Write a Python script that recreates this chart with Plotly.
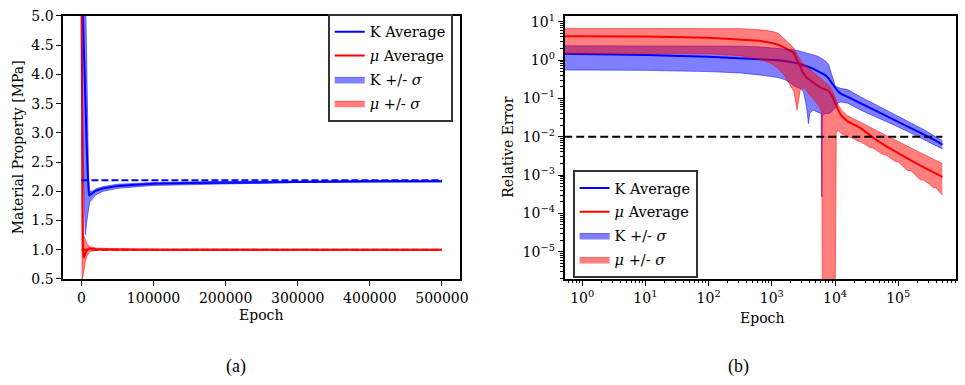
import plotly.graph_objects as go

# ---------------- Panel (a): material property vs epoch ----------------
A_K_AVG_EPOCH = [0, 2000, 4000, 6000, 8000, 10000, 11000, 13000, 16000, 20000, 30000,
                 50000, 75000, 100000, 150000, 200000, 300000, 400000, 500000]
A_K_AVG = [5.6, 5.05, 4.2, 3.3, 2.5, 2.0, 1.92, 1.95, 1.98, 2.01, 2.05,
           2.09, 2.11, 2.13, 2.14, 2.15, 2.16, 2.17, 2.17]

A_K_BAND_EPOCH = [0, 1500, 3000, 4500, 5500, 7000, 8000, 9000, 10000, 11000, 12000,
                  15000, 20000, 30000, 50000, 100000, 200000, 300000, 500000]
A_K_UPPER = [7.5, 7.3, 7.0, 6.3, 5.6, 4.3, 3.4, 2.7, 2.25, 2.05, 2.0,
             2.0, 2.04, 2.08, 2.12, 2.15, 2.17, 2.175, 2.18]
A_K_LOWER = [4.5, 3.2, 2.2, 1.6, 1.26, 1.45, 1.55, 1.65, 1.72, 1.78, 1.82,
             1.87, 1.94, 2.0, 2.05, 2.1, 2.13, 2.15, 2.16]

A_MU_AVG_EPOCH = [0, 500, 1000, 2000, 3200, 5000, 7000, 10000, 15000, 20000, 50000, 100000, 500000]
A_MU_AVG = [5.3, 3.5, 2.0, 1.1, 0.86, 0.92, 0.98, 1.02, 1.02, 1.01, 1.005, 1.0, 1.0]

A_MU_BAND_EPOCH = [0, 500, 900, 2000, 3000, 5500, 8000, 12000, 20000, 50000, 100000, 500000]
A_MU_UPPER = [8.0, 6.0, 4.5, 1.8, 1.25, 1.16, 1.1, 1.05, 1.03, 1.015, 1.01, 1.005]
A_MU_LOWER = [3.0, 1.3, 0.5, 0.55, 0.65, 0.8, 0.9, 0.97, 0.99, 0.995, 0.995, 0.995]

A_TARGET_K = 2.19
A_TARGET_MU = 1.0
A_XTICKS = [0, 100000, 200000, 300000, 400000, 500000]
A_XTICK_LABELS = ["0", "100000", "200000", "300000", "400000", "500000"]
A_YTICKS = [0.5, 1.0, 1.5, 2.0, 2.5, 3.0, 3.5, 4.0, 4.5, 5.0]
A_YTICK_LABELS = ["0.5", "1.0", "1.5", "2.0", "2.5", "3.0", "3.5", "4.0", "4.5", "5.0"]

# ---------------- Panel (b): relative error vs epoch (log-log) ----------------
R_EPOCH = [0.52, 1, 10, 100, 316, 631, 1000, 1259, 1585, 1995, 2239, 2512, 2818, 3162,
           3548, 3802, 3981, 4467, 5012, 5623, 6026, 6166, 6310, 6607, 7079, 7943, 8913,
           10000, 10471, 11220, 12589, 15849, 25119, 39811, 63096, 100000, 158489,
           251189, 398107, 500000]
R_K_AVG = [1.45, 1.43, 1.35, 1.22, 1.12, 1.08, 1.03, 0.99, 0.95, 0.90, 0.87, 0.83, 0.78, 0.74,
           0.70, 0.67, 0.65, 0.60, 0.55, 0.50, 0.47, 0.46, 0.45, 0.43, 0.40, 0.33, 0.25,
           0.19, 0.17, 0.15, 0.13, 0.11, 0.075, 0.052, 0.036, 0.025, 0.017,
           0.0115, 0.0078, 0.0062]
R_K_UPPER = [2.35, 2.35, 2.35, 2.35, 2.3, 2.2, 2.1, 2.05, 2.0, 1.9, 1.85, 1.78, 1.7, 1.62,
             1.55, 1.5, 1.47, 1.4, 1.3, 1.2, 1.12, 1.09, 1.05, 1.0, 0.95, 0.75, 0.4,
             0.22, 0.2, 0.19, 0.18, 0.17, 0.11, 0.075, 0.05, 0.034, 0.023,
             0.0155, 0.0098, 0.0078]
R_K_LOWER = [0.55, 0.55, 0.54, 0.5, 0.46, 0.41, 0.37, 0.35, 0.31, 0.25, 0.21, 0.19, 0.18, 0.15,
             0.06, 0.022, 0.04, 0.05, 0.045, 0.042, 0.04, 0.00027, 0.035, 0.038, 0.04, 0.04, 0.045,
             0.055, 0.065, 0.078, 0.08, 0.075, 0.05, 0.036, 0.026, 0.018, 0.0125,
             0.0085, 0.006, 0.0048]
R_MU_AVG = [4.2, 4.2, 4.1, 3.8, 3.5, 3.2, 2.8, 2.5, 2.1, 1.75, 1.55, 1.0, 0.65, 0.45,
            0.35, 0.32, 0.3, 0.26, 0.23, 0.2, 0.19, 0.185, 0.18, 0.175, 0.17, 0.155, 0.12,
            0.075, 0.06, 0.05, 0.035, 0.025, 0.017, 0.0095, 0.0058, 0.0037, 0.0024,
            0.0016, 0.0011, 0.0009]
R_MU_UPPER = [6.7, 6.7, 6.7, 6.7, 6.6, 6.2, 5.6, 5.0, 3.6, 2.5, 2.0, 1.4, 1.0, 0.8,
              0.68, 0.64, 0.6, 0.52, 0.43, 0.36, 0.33, 0.32, 0.31, 0.29, 0.26, 0.22, 0.17,
              0.11, 0.09, 0.068, 0.05, 0.035, 0.024, 0.016, 0.011, 0.0075, 0.005,
              0.0035, 0.0024, 0.002]
R_MU_LO_EPOCH = [0.52, 1, 10, 100, 316, 631, 1000, 1259, 1585, 1995, 2239, 2512, 2818, 3162,
                 3548, 3802, 3981, 4467, 5012, 5623, 6026, 6166, 6310, 6607, 7079, 7943, 8913,
                 10000, 10471, 11220, 12589, 15849, 19953, 22387, 25119, 31623, 35481, 39811,
                 50119, 56234, 63096, 79433, 89125, 100000, 125893, 141254, 158489,
                 199526, 223872, 251189, 316228, 354813, 398107, 446684, 500000]
R_MU_LOWER = [1.5, 1.5, 1.5, 1.45, 1.3, 1.05, 0.8, 0.6, 0.4, 0.22, 0.15, 0.05, 0.17, 0.19,
              0.16, 0.13, 0.12, 0.1, 0.08, 0.06, 0.05, 0.045, 1e-7, 1e-7, 1e-7, 1e-7, 1e-7,
              1e-7, 0.0126, 0.015, 0.012, 0.0105, 0.0088, 0.0078, 0.0074, 0.006, 0.0052, 0.0051,
              0.0041, 0.0035, 0.0034, 0.0027, 0.0023, 0.0022, 0.0016, 0.0013, 0.0013,
              0.00092, 0.00075, 0.00074, 0.00057, 0.00047, 0.00046, 0.00036, 0.0003]
R_TARGET = 0.01
R_XTICKS = [1, 10, 100, 1000, 10000, 100000]
R_XTICK_LABELS = ["10<sup>0</sup>", "10<sup>1</sup>", "10<sup>2</sup>", "10<sup>3</sup>",
                  "10<sup>4</sup>", "10<sup>5</sup>"]
R_YTICKS = [1e-5, 1e-4, 1e-3, 1e-2, 1e-1, 1, 10]
R_YTICK_LABELS = ["10<sup>\u22125</sup>", "10<sup>\u22124</sup>", "10<sup>\u22123</sup>",
                  "10<sup>\u22122</sup>", "10<sup>\u22121</sup>", "10<sup>0</sup>", "10<sup>1</sup>"]

BLUE = "#0000ff"
RED = "#ff0000"
BLUE_FILL = "rgba(0,0,255,0.5)"
RED_FILL = "rgba(255,0,0,0.5)"
SERIF = "DejaVu Serif"

W, H = 965, 385


def px_x(p):
    return p / W


def px_y(p):
    return 1 - p / H


fig = go.Figure()


def line(x, y, color, name, xa, ya, leg, grp, show=True, width=2, dash=None):
    fig.add_trace(go.Scatter(x=x, y=y, mode="lines", name=name,
                             line=dict(color=color, width=width, dash=dash),
                             xaxis=xa, yaxis=ya, legend=leg, legendgroup=grp,
                             showlegend=show, hoverinfo="skip"))


def band(xl, yl, xu, yu, fill, name, xa, ya, leg, grp):
    fig.add_trace(go.Scatter(x=xl, y=yl, mode="lines", line=dict(color=fill, width=1),
                             xaxis=xa, yaxis=ya, legend=leg, legendgroup=grp,
                             showlegend=False, hoverinfo="skip"))
    fig.add_trace(go.Scatter(x=xu, y=yu, mode="lines", line=dict(color=fill, width=1),
                             fill="tonexty", fillcolor=fill, name=name,
                             xaxis=xa, yaxis=ya, legend=leg, legendgroup=grp,
                             hoverinfo="skip"))


K_AVG_NAME = "K Average"
MU_AVG_NAME = "<i>\u03bc</i> Average"
K_BAND_NAME = "K +/- <i>\u03c3</i>"
MU_BAND_NAME = "<i>\u03bc</i> +/- <i>\u03c3</i>"

# Panel (a)
line(A_K_AVG_EPOCH, A_K_AVG, BLUE, K_AVG_NAME, "x", "y", "legend", "ka")
line(A_MU_AVG_EPOCH, A_MU_AVG, RED, MU_AVG_NAME, "x", "y", "legend", "ma")
band(A_K_BAND_EPOCH, A_K_LOWER, A_K_BAND_EPOCH, A_K_UPPER, BLUE_FILL, K_BAND_NAME, "x", "y", "legend", "kb")
band(A_MU_BAND_EPOCH, A_MU_LOWER, A_MU_BAND_EPOCH, A_MU_UPPER, RED_FILL, MU_BAND_NAME, "x", "y", "legend", "mb")
line([A_K_AVG_EPOCH[0], A_K_AVG_EPOCH[-1]], [A_TARGET_K, A_TARGET_K], BLUE, "K target",
     "x", "y", "legend", "kt", show=False, dash="7px,3px")
line([A_MU_AVG_EPOCH[0], A_MU_AVG_EPOCH[-1]], [A_TARGET_MU, A_TARGET_MU], RED, "mu target",
     "x", "y", "legend", "mt", show=False, dash="7px,3px")

# Panel (b)
line(R_EPOCH, R_K_AVG, BLUE, K_AVG_NAME, "x2", "y2", "legend2", "ka2")
line(R_EPOCH, R_MU_AVG, RED, MU_AVG_NAME, "x2", "y2", "legend2", "ma2")
band(R_EPOCH, R_K_LOWER, R_EPOCH, R_K_UPPER, BLUE_FILL, K_BAND_NAME, "x2", "y2", "legend2", "kb2")
band(R_MU_LO_EPOCH, R_MU_LOWER, R_EPOCH, R_MU_UPPER, RED_FILL, MU_BAND_NAME, "x2", "y2", "legend2", "mb2")
line([R_EPOCH[0], R_EPOCH[-1]], [R_TARGET, R_TARGET], "black", "target",
     "x2", "y2", "legend2", "rt", show=False, dash="8px,4px")

tickfont = dict(family=SERIF, size=14, color="black")
axis_common = dict(showline=True, linecolor="black", linewidth=2, mirror=True,
                   ticks="outside", ticklen=5, tickwidth=1.3, tickcolor="black",
                   showgrid=False, zeroline=False, tickfont=tickfont, tickmode="array")

y_dom = [px_y(282.7), px_y(8.3)]

minor_x = [m * 10.0 ** e for e in range(-1, 6) for m in range(2, 10)]
minor_y = [m * 10.0 ** e for e in range(-6, 2) for m in range(2, 10)]
minor_style = dict(ticks="outside", ticklen=2.5, tickwidth=1, tickcolor="black", showgrid=False)

legend_common = dict(bgcolor="white", bordercolor="#333333", borderwidth=2,
                     font=dict(family=SERIF, size=14.5, color="black"),
                     tracegroupgap=2, itemwidth=30)

fig.update_layout(
    width=W, height=H, margin=dict(l=0, r=0, t=0, b=0),
    paper_bgcolor="white", plot_bgcolor="white",
    xaxis=dict(domain=[px_x(64), px_x(464.3)], range=[-25000, 525000],
               tickvals=A_XTICKS, ticktext=A_XTICK_LABELS, anchor="y", **axis_common),
    yaxis=dict(domain=y_dom, range=[0.5, 5.0], tickvals=A_YTICKS, ticktext=A_YTICK_LABELS,
               anchor="x", **axis_common),
    xaxis2=dict(domain=[px_x(570), 1.0], type="log", range=[-0.277, 5.914],
                tickvals=R_XTICKS, ticktext=R_XTICK_LABELS, anchor="y2",
                minor=dict(tickmode="array", tickvals=minor_x, **minor_style), **axis_common),
    yaxis2=dict(domain=y_dom, type="log", range=[-5.71, 1.15],
                tickvals=R_YTICKS, ticktext=R_YTICK_LABELS, anchor="x2",
                minor=dict(tickmode="array", tickvals=minor_y, **minor_style), **axis_common),
    legend=dict(x=px_x(457), xanchor="right", y=px_y(6), yanchor="top", **legend_common),
    legend2=dict(x=px_x(578), xanchor="left", y=px_y(169), yanchor="top", **legend_common),
    showlegend=True,
)

title_font = dict(family=SERIF, size=14, color="black")
cap_font = dict(family="Liberation Serif", size=18, color="black")
annos = [
    dict(text="Material Property [MPa]", x=px_x(19), y=px_y(145.5), textangle=-90, font=title_font),
    dict(text="Epoch", x=px_x(263), y=px_y(320), font=title_font),
    dict(text="Relative Error", x=px_x(513), y=px_y(145.5), textangle=-90, font=title_font),
    dict(text="Epoch", x=px_x(769), y=px_y(323), font=title_font),
    dict(text="(a)", x=px_x(238), y=px_y(374), font=cap_font),
    dict(text="(b)", x=px_x(745), y=px_y(374), font=cap_font),
]
for a in annos:
    fig.add_annotation(xref="paper", yref="paper", showarrow=False,
                       xanchor="center", yanchor="middle", **a)

fig.write_html("out.html")
